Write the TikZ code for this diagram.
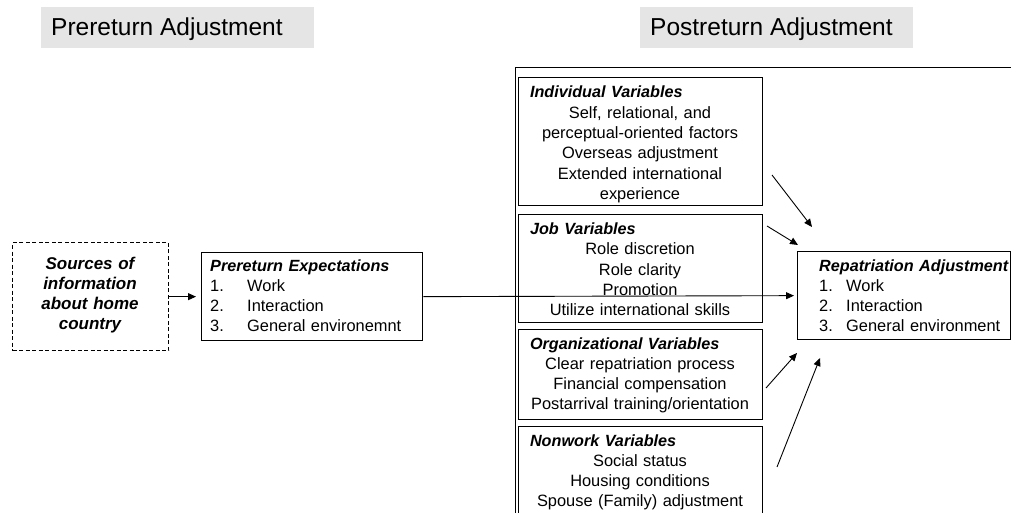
\documentclass[tikz,border=0pt]{standalone}
\usepackage{fontspec}
\setmainfont{Liberation Sans}
\usetikzlibrary{arrows.meta}
\definecolor{bandgray}{RGB}{230,229,230}
\newcommand{\bodyfont}{\fontsize{16.4}{20.3}\selectfont}
\newcommand{\headfont}{\fontsize{16.2}{20.3}\selectfont\bfseries\itshape}
\begin{document}
\begin{tikzpicture}[x=1pt,y=-1pt,
  box/.style={draw, line width=1.3pt, inner sep=0pt, anchor=north west},
  band/.style={fill=bandgray, inner sep=0pt, anchor=north west,
    minimum width=273pt, minimum height=41pt},
  bandtext/.style={font=\fontsize{24.5}{28}\selectfont, inner sep=0pt, anchor=base west},
  vartext/.style={font=\bodyfont, inner sep=0pt, anchor=base, text width=244pt, align=center},
  listtext/.style={font=\bodyfont, inner sep=0pt, anchor=base west, text width=230pt, align=left},
  link/.style={-{Triangle[length=8pt,width=7pt]}, line width=0.9pt}
]
\clip (0,0) rectangle (1011,513);

% section headers
\node[band] (preband) at (41,7) {};
\node[bandtext] (pretitle) at (51,36) {Prereturn Adjustment};
\node[band] (postband) at (640,7) {};
\node[bandtext] (posttitle) at (650,36) {Postreturn Adjustment};

% frame around the postreturn variables
\node[draw, line width=1pt, inner sep=0pt, anchor=north west,
  minimum width=530pt, minimum height=470pt] (frame) at (515,67) {};

% prereturn side
\node[box, dashed, dash pattern=on 4pt off 2.5pt,
  minimum width=156pt, minimum height=108pt] (src) at (12,242) {};
\node[font=\fontsize{17}{20.3}\selectfont\bfseries\itshape, inner sep=0pt, anchor=base,
  text width=150pt, align=center]
  (srctext) at (90,269) {Sources of\\information\\about home\\country};

\node[box, minimum width=221pt, minimum height=88pt] (pre) at (201,252) {};
\node[listtext] (pretext) at (210,271)
  {{\headfont Prereturn Expectations}\\
   \makebox[37pt][l]{1.}Work\\
   \makebox[37pt][l]{2.}Interaction\\
   \makebox[37pt][l]{3.}General environemnt};

% postreturn variable groups
\node[box, minimum width=244pt, minimum height=128pt] (ind) at (518,77) {};
\node[vartext] (indtext) at (640,98)
  {\makebox[\linewidth][l]{\hspace{12pt}\headfont Individual Variables}\\
   Self, relational, and\\
   perceptual-oriented factors\\
   Overseas adjustment\\
   Extended international\\
   experience};

\node[box, minimum width=244pt, minimum height=108pt] (job) at (518,214) {};
\node[vartext] (jobtext) at (640,234.5)
  {\makebox[\linewidth][l]{\hspace{12pt}\headfont Job Variables}\\
   Role discretion\\
   Role clarity\\
   Promotion\\
   Utilize international skills};

\node[box, minimum width=244pt, minimum height=90pt] (org) at (518,329) {};
\node[vartext] (orgtext) at (640,349)
  {\makebox[\linewidth][l]{\hspace{12pt}\headfont Organizational Variables}\\
   Clear repatriation process\\
   Financial compensation\\
   Postarrival training/orientation};

\node[box, minimum width=244pt, minimum height=110pt] (non) at (518,426) {};
\node[vartext] (nontext) at (640,446)
  {\makebox[\linewidth][l]{\hspace{12pt}\headfont Nonwork Variables}\\
   Social status\\
   Housing conditions\\
   Spouse (Family) adjustment};

% outcome
\node[box, minimum width=212.5pt, minimum height=88pt] (rep) at (797,251) {};
\node[listtext] (reptext) at (819,271)
  {{\headfont Repatriation Adjustment}\\
   \makebox[27pt][l]{1.}Work\\
   \makebox[27pt][l]{2.}Interaction\\
   \makebox[27pt][l]{3.}General environment};

% connectors
\draw[link, shorten >=5pt] (src.east) -- (pre.west);
\draw[link, shorten >=3pt] (pre.east) -- (rep.west);

\coordinate (a1s) at (772,175); \coordinate (a1e) at (812,227);
\coordinate (a2s) at (767,226); \coordinate (a2e) at (798,245);
\coordinate (a3s) at (766,388); \coordinate (a3e) at (797,353);
\coordinate (a4s) at (777,467); \coordinate (a4e) at (820,358);
\draw[link] (a1s) -- (a1e);
\draw[link] (a2s) -- (a2e);
\draw[link] (a3s) -- (a3e);
\draw[link] (a4s) -- (a4e);
\end{tikzpicture}
\end{document}
